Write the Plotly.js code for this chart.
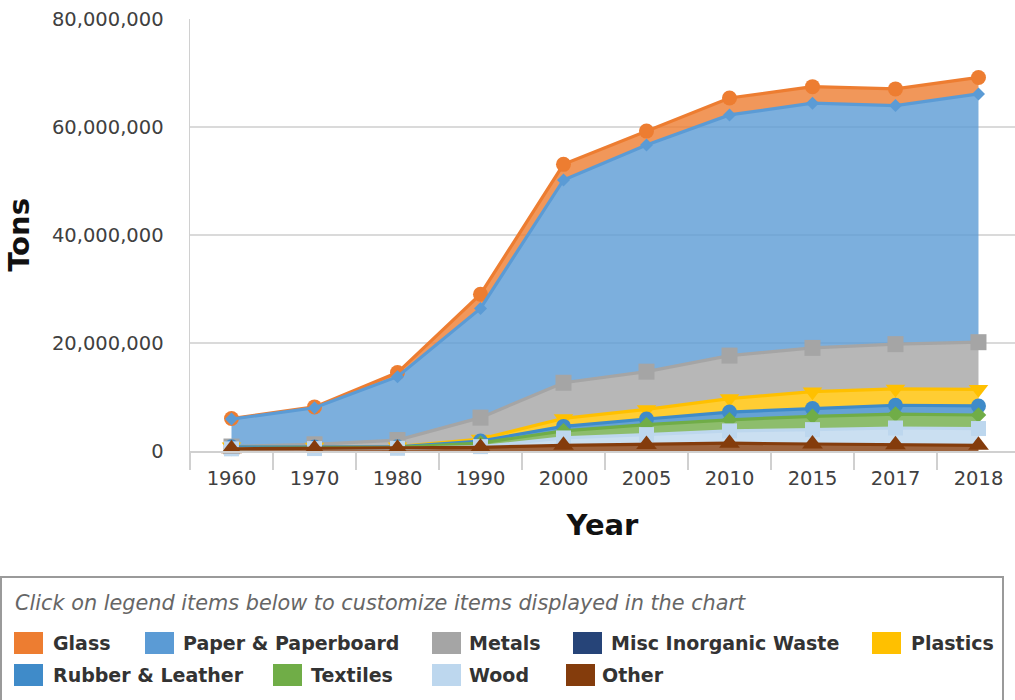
<!DOCTYPE html>
<html>
<head>
<meta charset="utf-8">
<script src="https://cdn.plot.ly/plotly-3.0.1.min.js"></script>
<style>
  html, body { margin: 0; padding: 0; background: #ffffff; overflow: hidden; }
  #chart { width: 1015px; height: 700px; }
</style>
</head>
<body>
<div id="chart"></div>
<script>
// ---- Data (tons) ----
const years = ['1960', '1970', '1980', '1990', '2000', '2005', '2010', '2015', '2017', '2018'];
const other = [400000, 450000, 500000, 680000, 1050000, 1210000, 1440000, 1300000, 1150000, 1060000];
const wood = [0, 0, 0, 130000, 1370000, 1830000, 2280000, 2660000, 3110000, 3100000];
const textiles = [50000, 60000, 160000, 660000, 1320000, 1830000, 2050000, 2460000, 2570000, 2510000];
const rubberLeather = [330000, 250000, 130000, 370000, 820000, 1050000, 1440000, 1430000, 1640000, 1670000];
const plastics = [0, 0, 20000, 370000, 1480000, 1780000, 2500000, 3140000, 3020000, 3090000];
const miscInorganic = [0, 0, 0, 0, 0, 0, 0, 0, 0, 0];
const metals = [50000, 480000, 1220000, 3970000, 6600000, 6990000, 7960000, 8100000, 8300000, 8720000];
const paper = [5080000, 6770000, 11740000, 20230000, 37560000, 41960000, 44570000, 45320000, 44170000, 45970000];
const glass = [100000, 160000, 750000, 2630000, 2880000, 2590000, 3130000, 3060000, 3100000, 3060000];

const yTickVals = [0, 20000000, 40000000, 60000000, 80000000];
const legendNames = ['Glass', 'Paper & Paperboard', 'Metals', 'Misc Inorganic Waste', 'Plastics',
                     'Rubber & Leather', 'Textiles', 'Wood', 'Other'];

// ---- Styles ----
const COLORS = {
  'Glass': '#ED7D31',
  'Paper & Paperboard': '#5B9BD5',
  'Metals': '#A5A5A5',
  'Misc Inorganic Waste': '#264478',
  'Plastics': '#FFC000',
  'Rubber & Leather': '#3F8BC9',
  'Textiles': '#70AD47',
  'Wood': '#BDD7EE',
  'Other': '#843C0C'
};
const MARKERS = {
  'Glass': ['circle', 15],
  'Paper & Paperboard': ['diamond', 10],
  'Metals': ['square', 16],
  'Misc Inorganic Waste': ['triangle-up', 7],
  'Plastics': ['triangle-down', 17],
  'Rubber & Leather': ['circle', 15],
  'Textiles': ['diamond', 12],
  'Wood': ['square', 15],
  'Other': ['triangle-up', 18]
};

function rgba(hex, a) {
  const n = parseInt(hex.slice(1), 16);
  return 'rgba(' + ((n >> 16) & 255) + ',' + ((n >> 8) & 255) + ',' + (n & 255) + ',' + a + ')';
}

// stacking order, bottom -> top
const stack = [
  ['Other', other], ['Wood', wood], ['Textiles', textiles], ['Rubber & Leather', rubberLeather],
  ['Misc Inorganic Waste', miscInorganic], ['Plastics', plastics], ['Metals', metals],
  ['Paper & Paperboard', paper], ['Glass', glass]
];

const data = [];
// filled bands (stacked by Plotly)
stack.forEach(([name, vals]) => {
  data.push({
    type: 'scatter', mode: 'none', name: name, x: years, y: vals,
    stackgroup: 'bands', fillcolor: rgba(COLORS[name], 0.8),
    showlegend: false, hoverinfo: 'skip'
  });
});
// lines + markers, drawn top series first so lower series sit on top
let running = years.map(() => 0);
const tops = {};
stack.forEach(([name, vals]) => {
  running = running.map((v, i) => v + vals[i]);
  tops[name] = running.slice();
});
stack.slice().reverse().forEach(([name, vals]) => {
  const c = COLORS[name];
  const hidden = name === 'Misc Inorganic Waste';
  data.push({
    type: 'scatter', mode: 'lines+markers', name: name, x: years, y: tops[name],
    cliponaxis: false,
    line: { color: hidden ? 'rgba(0,0,0,0)' : c, width: hidden ? 0 : 3.2 },
    marker: { color: c, symbol: MARKERS[name][0], size: MARKERS[name][1], opacity: hidden ? 0.5 : 1 },
    showlegend: false,
    customdata: vals
  });
});

// ---- Layout helpers (pixel -> paper) ----
const L = 190, T = 19, W = 825, H = 432;
const px = v => (v - L) / W;
const py = v => (T + H - v) / H;

const shapes = [
  { type: 'rect', xref: 'paper', yref: 'paper', x0: px(1), x1: px(1003), y0: py(703), y1: py(577),
    line: { color: '#9a9a9a', width: 2 }, fillcolor: 'rgba(0,0,0,0)', layer: 'above' }
];
const annotations = [
  { xref: 'paper', yref: 'paper', x: px(13), y: py(603), xanchor: 'left', yanchor: 'middle',
    text: '<i>Click on legend items below to customize items displayed in the chart</i>',
    showarrow: false, font: { family: 'DejaVu Sans', size: 20.8, color: '#666666' } }
];
const legendPos = [
  [14, 53, 643], [145, 183, 643], [432, 469, 643], [573, 611, 643], [872, 911, 643],
  [14, 53, 675], [273, 311, 675], [432, 469, 675], [566, 602, 675]
];
legendNames.forEach((name, i) => {
  const [sx, tx, cy] = legendPos[i];
  shapes.push({ type: 'rect', xref: 'paper', yref: 'paper', x0: px(sx), x1: px(sx + 29),
    y0: py(cy + 11), y1: py(cy - 11), line: { width: 0 }, fillcolor: COLORS[name] });
  annotations.push({ xref: 'paper', yref: 'paper', x: px(tx - 2), y: py(cy), xanchor: 'left', yanchor: 'middle',
    text: '<b>' + name + '</b>', showarrow: false,
    font: { family: 'DejaVu Sans', size: 19, color: '#333333' } });
});

const layout = {
  width: 1015,
  height: 700,
  margin: { l: L, r: 0, t: T, b: 700 - T - H, pad: 0 },
  paper_bgcolor: '#ffffff',
  plot_bgcolor: '#ffffff',
  font: { family: 'DejaVu Sans', color: '#333333' },
  showlegend: false,
  xaxis: {
    type: 'category',
    range: [-0.5, 9.44],
    showgrid: false,
    zeroline: false,
    showline: true,
    linecolor: '#d0d0d0',
    linewidth: 1.5,
    ticks: 'outside',
    tickson: 'boundaries',
    ticklen: 17,
    tickcolor: '#d0d0d0',
    tickwidth: 1.5,
    ticklabelstandoff: 9,
    tickfont: { family: 'DejaVu Sans', size: 19.5, color: '#404040' },
    title: { text: '<b>Year</b>', font: { family: 'DejaVu Sans', size: 29, color: '#111111' }, standoff: 26 },
    automargin: false
  },
  yaxis: {
    range: [0, 80000000],
    tickvals: yTickVals,
    tickformat: ',d',
    showgrid: true,
    gridcolor: '#dadada',
    gridwidth: 1.5,
    zeroline: false,
    showline: true,
    linecolor: '#d0d0d0',
    linewidth: 1.5,
    ticks: '',
    ticklabelstandoff: 21,
    tickfont: { family: 'DejaVu Sans', size: 19.5, color: '#404040' },
    title: { text: '<b>Tons</b>', font: { family: 'DejaVu Sans', size: 29, color: '#111111' }, standoff: 14 },
    automargin: false
  },
  shapes: shapes,
  annotations: annotations
};

Plotly.newPlot('chart', data, layout, { displayModeBar: false, staticPlot: true });
</script>
</body>
</html>
